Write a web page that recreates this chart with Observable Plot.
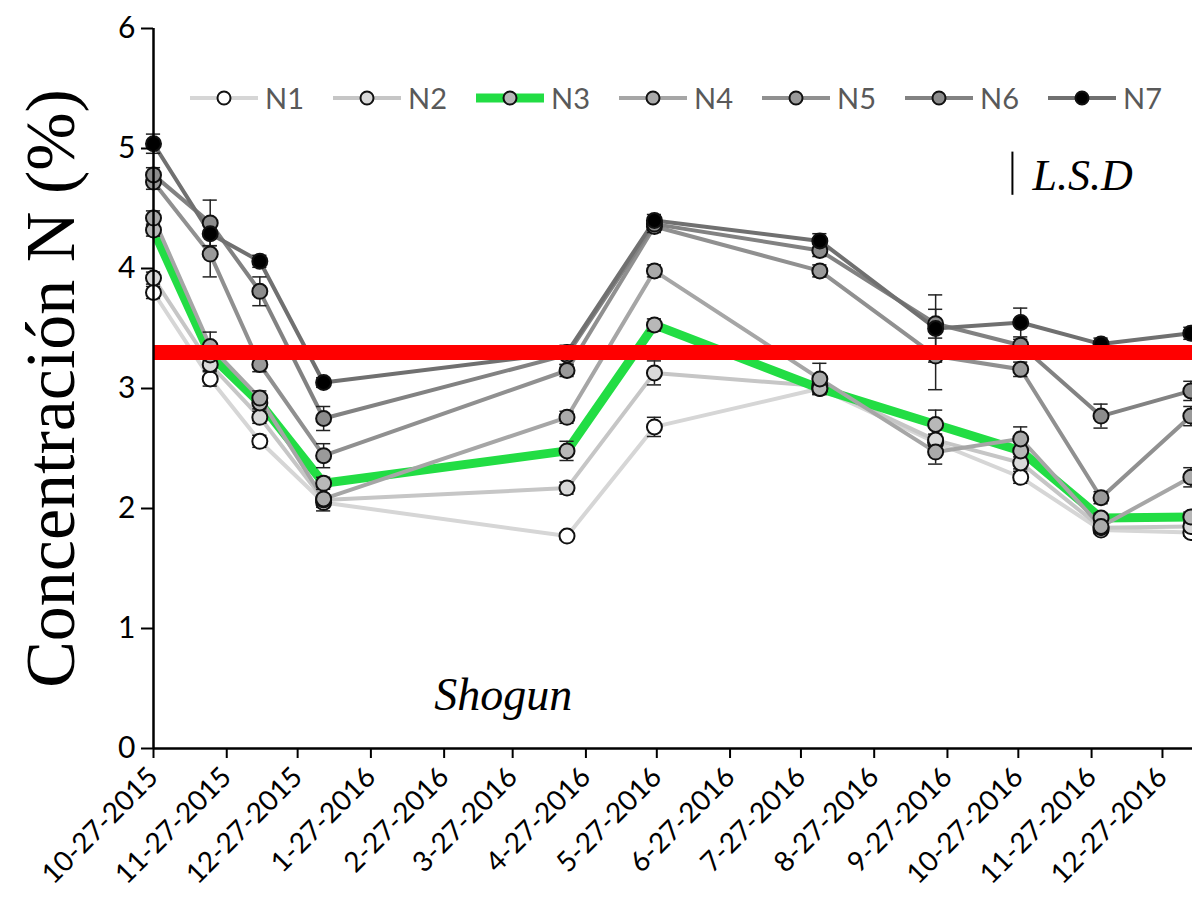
<!DOCTYPE html>
<html><head><meta charset="utf-8">
<script src="https://cdn.jsdelivr.net/npm/d3@7"></script>
<script src="https://cdn.jsdelivr.net/npm/@observablehq/plot@0.6"></script>
<style>
body{margin:0;background:#fff;}
#wrap{position:relative;width:1192px;height:907px;overflow:hidden;}
#legend{position:absolute;left:190px;top:80px;display:flex;font-family:Lato,"Open Sans",sans-serif;font-size:29px;color:#595959;}
.item{width:143px;display:flex;align-items:center;}
.item svg{margin-right:7px;}
</style>
</head><body>
<div id="wrap"><div id="legend"></div></div>
<script>
const dates = ["2015-10-27","2015-11-20","2015-12-11","2016-01-07","2016-04-19","2016-05-26","2016-08-04","2016-09-22","2016-10-28","2016-12-01","2017-01-08"];
const seriesNames = ["N1","N2","N3","N4","N5","N6","N7"];
const N1 = [3.80, 3.08, 2.56, 2.05, 1.77, 2.68, 3.00, 2.55, 2.26, 1.82, 1.80];
const N2 = [3.92, 3.20, 2.76, 2.07, 2.17, 3.13, 3.02, 2.57, 2.38, 1.84, 1.85];
const N3 = [4.32, 3.28, 2.88, 2.21, 2.48, 3.53, 3.00, 2.70, 2.48, 1.92, 1.93];
const N4 = [4.42, 3.35, 2.92, 2.08, 2.76, 3.98, 3.08, 2.47, 2.58, 1.85, 2.26];
const N5 = [4.72, 4.12, 3.20, 2.44, 3.15, 4.35, 3.98, 3.27, 3.16, 2.09, 2.77];
const N6 = [4.78, 4.38, 3.81, 2.75, 3.28, 4.37, 4.15, 3.54, 3.36, 2.77, 2.98];
const N7 = [5.04, 4.29, 4.06, 3.05, 3.30, 4.40, 4.23, 3.50, 3.55, 3.37, 3.46];
const E1 = [0.05,0.06,0.05,0.04,0.03,0.08,0.04,0.05,0.05,0.03,0.03];
const E2 = [0.05,0.05,0.05,0.04,0.05,0.10,0.04,0.05,0.05,0.03,0.03];
const E3 = [0.05,0.08,0.05,0.05,0.08,0.05,0.05,0.12,0.08,0.04,0.04];
const E4 = [0.06,0.12,0.06,0.10,0.05,0.05,0.13,0.10,0.10,0.04,0.08];
const E5 = [0.06,0.19,0.06,0.10,0.05,0.05,0.05,0.28,0.06,0.05,0.08];
const E6 = [0.06,0.19,0.12,0.10,0.08,0.05,0.05,0.12,0.05,0.10,0.08];
const E7 = [0.08,0.10,0.05,0.04,0.05,0.05,0.06,0.28,0.12,0.05,0.05];
const tickDates = ["2015-10-27","2015-11-27","2015-12-27","2016-01-27","2016-02-27","2016-03-27","2016-04-27","2016-05-27","2016-06-27","2016-07-27","2016-08-27","2016-09-27","2016-10-27","2016-11-27","2016-12-27"];
const yTicks = [0,1,2,3,4,5,6];
const threshold = 3.3;
const lsd = {date:"2016-10-24T12:00", low:4.61, high:4.97};

const values = [N1,N2,N3,N4,N5,N6,N7];
const errors = [E1,E2,E3,E4,E5,E6,E7];
const lineColors = ["#d6d6d6","#c6c6c6","#22dd44","#a6a6a6","#909090","#828282","#707070"];
const dotFills = ["#ffffff","#d9d9d9","#b8b8b8","#aaaaaa","#9a9a9a","#8c8c8c","#000000"];
const lineWidths = [4,4,9,4,4,4,4];

const parse = s => new Date(s);
const rows = [];
seriesNames.forEach((s,i)=>dates.forEach((d,j)=>rows.push({s, i, date:parse(d), v:values[i][j], e:errors[i][j]})));
const day = 864e5;

const marks = [];
seriesNames.forEach((s,i)=>{
  marks.push(Plot.line(rows.filter(r=>r.s===s), {x:"date", y:"v", stroke:lineColors[i], strokeWidth:lineWidths[i], strokeLinejoin:"round"}));
});
marks.push(Plot.ruleX(rows, {x:"date", y1:r=>r.v-r.e, y2:r=>r.v+r.e, stroke:"#222", strokeWidth:1.5}));
marks.push(Plot.ruleY(rows, {y:r=>r.v-r.e, x1:r=>new Date(+r.date-3*day), x2:r=>new Date(+r.date+3*day), stroke:"#222", strokeWidth:1.5}));
marks.push(Plot.ruleY(rows, {y:r=>r.v+r.e, x1:r=>new Date(+r.date-3*day), x2:r=>new Date(+r.date+3*day), stroke:"#222", strokeWidth:1.5}));
seriesNames.forEach((s,i)=>{
  marks.push(Plot.dot(rows.filter(r=>r.s===s), {x:"date", y:"v", r:7.5, fill:dotFills[i], stroke:"#111", strokeWidth:2}));
});
marks.push(Plot.ruleY([threshold], {stroke:"#ff0000", strokeWidth:15}));
marks.push(Plot.ruleX([lsd], {x:d=>parse(d.date), y1:"low", y2:"high", stroke:"#000", strokeWidth:2}));
marks.push(Plot.text(["L.S.D"], {x:()=>parse("2016-11-02"), y:()=>4.77, textAnchor:"start", fontFamily:"Liberation Serif", fontStyle:"italic", fontSize:44, fill:"#000"}));
marks.push(Plot.text(["Shogun"], {x:()=>parse("2016-03-23"), y:()=>0.44, textAnchor:"middle", fontFamily:"Liberation Serif", fontStyle:"italic", fontSize:46, fill:"#000"}));
marks.push(Plot.text(["Concentración N (%)"], {frameAnchor:"left", textAnchor:"middle", rotate:-90, dx:-102, fontFamily:"Liberation Serif", fontSize:70, fill:"#000"}));
marks.push(Plot.axisY({ticks:yTicks, tickFormat:d=>String(d), tickSize:12, tickPadding:6, fontSize:30, fontFamily:"Lato", label:null, stroke:"#000", strokeWidth:2}));
marks.push(Plot.axisX({ticks:tickDates.map(parse), tickFormat:d=>`${d.getUTCMonth()+1}-${d.getUTCDate()}-${d.getUTCFullYear()}`, tickRotate:-45, tickSize:10, tickPadding:14, fontSize:28, fontFamily:"Lato", label:null, strokeWidth:2}));
marks.push(Plot.ruleX([parse(dates[0])], {stroke:"#000", strokeWidth:2.5}));
marks.push(Plot.ruleY([0], {stroke:"#000", strokeWidth:2.5}));

const chart = Plot.plot({
  width:1192, height:907,
  marginLeft:153, marginRight:0, marginTop:28, marginBottom:159,
  style:{background:"#fff", color:"#000", overflow:"hidden"},
  x:{type:"utc", domain:[parse("2015-10-27"), parse("2017-01-08T17:00")]},
  y:{domain:[0,6]},
  marks
});
document.getElementById("wrap").prepend(chart);

const legend = document.getElementById("legend");
seriesNames.forEach((s,i)=>{
  const item = document.createElement("div");
  item.className = "item";
  item.innerHTML = `<svg width="68" height="24"><line x1="0" x2="68" y1="12" y2="12" stroke="${lineColors[i]}" stroke-width="${i===2?9:4}" stroke-linecap="${i===2?'round':'butt'}"/><circle cx="34" cy="12" r="6.5" fill="${dotFills[i]}" stroke="#111" stroke-width="2"/></svg><span>${s}</span>`;
  legend.appendChild(item);
});
</script>
</body></html>
